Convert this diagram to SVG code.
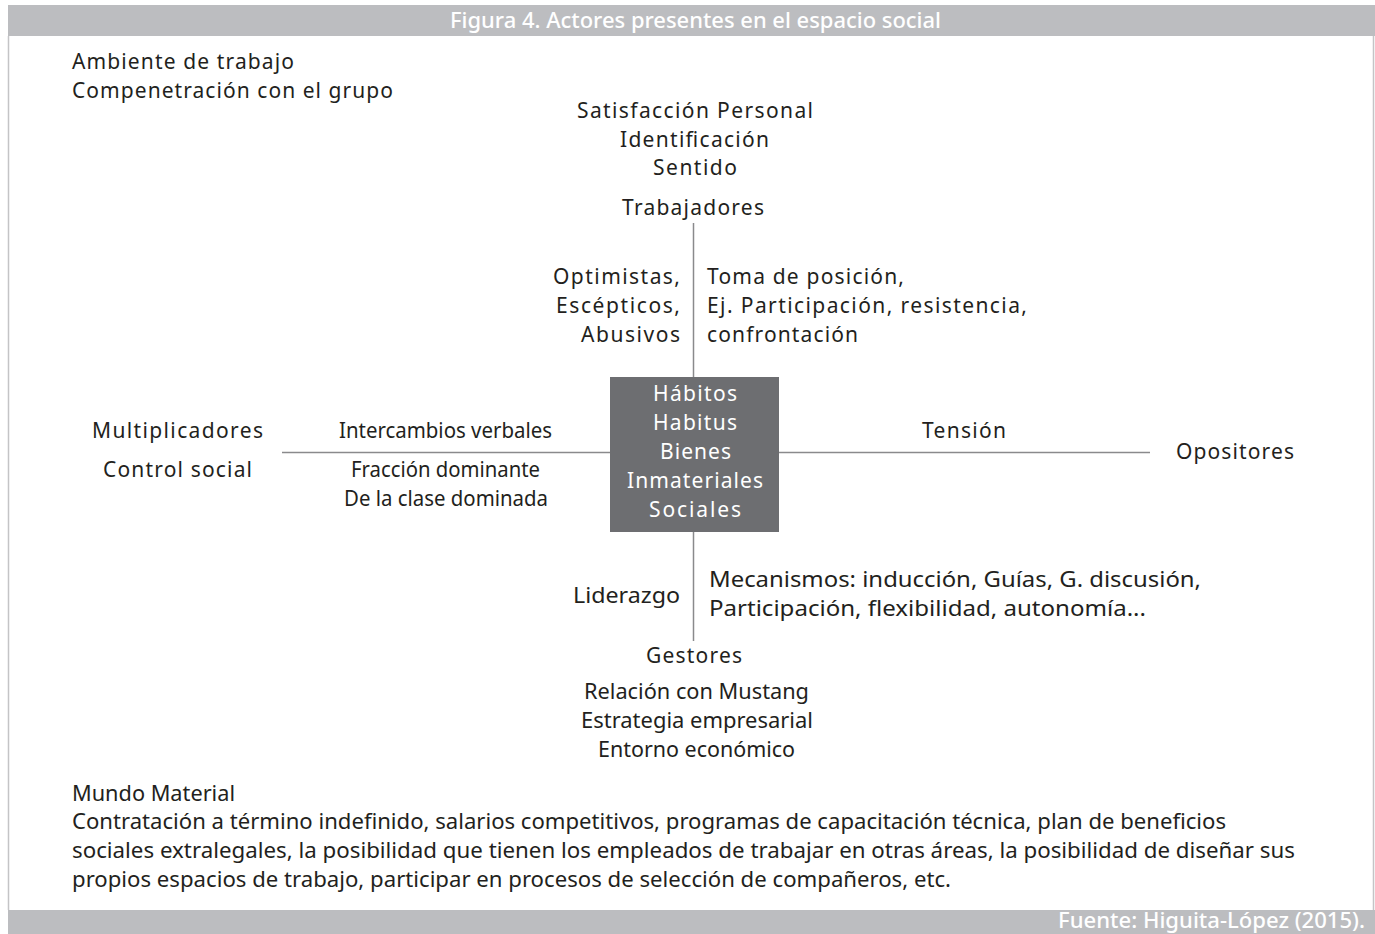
<svg xmlns="http://www.w3.org/2000/svg" width="1375" height="934" viewBox="0 0 1375 934">
<style>
.t{font-family:"Noto Sans","Liberation Sans",sans-serif;font-size:21px;fill:#231f20}
.c{text-anchor:middle}
.e{text-anchor:end}
.w{fill:#ffffff}
.h{font-weight:500}
.band{fill:#bcbdc0}
.ln{stroke:#8a8a8c;stroke-width:1.5;fill:none}
</style>
<rect x="0" y="0" width="1375" height="934" fill="#ffffff"/>
<line x1="8.5" y1="36" x2="8.5" y2="910" stroke="#c4c4c6" stroke-width="1.5"/>
<line x1="1373.5" y1="36" x2="1373.5" y2="910" stroke="#c4c4c6" stroke-width="1.5"/>
<g id="header">
<rect class="band" x="8" y="5" width="1367" height="31"/>
<text class="t w c h" x="695.5" y="28" font-size="20" textLength="491" lengthAdjust="spacingAndGlyphs">Figura 4. Actores presentes en el espacio social</text>
</g>
<g id="footer">
<rect class="band" x="8" y="910" width="1367" height="24"/>
<text class="t w e h" x="1365" y="928" font-size="18" textLength="307" lengthAdjust="spacingAndGlyphs">Fuente: Higuita-López (2015).</text>
</g>
<g id="connectors">
<line class="ln" x1="693.5" y1="223" x2="693.5" y2="377"/>
<line class="ln" x1="693.5" y1="532" x2="693.5" y2="641"/>
<line class="ln" x1="282" y1="452.5" x2="610" y2="452.5"/>
<line class="ln" x1="779" y1="452.5" x2="1150" y2="452.5"/>
</g>
<g id="ambiente">
<text class="t" x="72" y="69" textLength="222" lengthAdjust="spacing">Ambiente de trabajo</text>
<text class="t" x="72" y="98" textLength="321" lengthAdjust="spacing">Compenetración con el grupo</text>
</g>
<g id="satisfaccion">
<text class="t c" x="695" y="118" textLength="236" lengthAdjust="spacing">Satisfacción Personal</text>
<text class="t c" x="694.5" y="147" textLength="149" lengthAdjust="spacing">Identificación</text>
<text class="t c" x="695" y="175" textLength="84" lengthAdjust="spacing">Sentido</text>
</g>
<g id="trabajadores">
<text class="t c" x="693" y="215" textLength="142" lengthAdjust="spacing">Trabajadores</text>
</g>
<g id="optimistas">
<text class="t e" x="680" y="284" textLength="127" lengthAdjust="spacing">Optimistas,</text>
<text class="t e" x="680" y="313" textLength="124" lengthAdjust="spacing">Escépticos,</text>
<text class="t e" x="680" y="342" textLength="99" lengthAdjust="spacing">Abusivos</text>
</g>
<g id="toma">
<text class="t" x="707" y="284" textLength="197" lengthAdjust="spacing">Toma de posición,</text>
<text class="t" x="707" y="313" textLength="320" lengthAdjust="spacing">Ej. Participación, resistencia,</text>
<text class="t" x="707" y="342" textLength="151" lengthAdjust="spacing">confrontación</text>
</g>
<g id="centro">
<rect x="610" y="377" width="169" height="155" fill="#6d6e71"/>
<text class="t w c" x="695" y="401" textLength="84" lengthAdjust="spacing">Hábitos</text>
<text class="t w c" x="695" y="430" textLength="84" lengthAdjust="spacing">Habitus</text>
<text class="t w c" x="695.5" y="459" textLength="71" lengthAdjust="spacing">Bienes</text>
<text class="t w c" x="695" y="488" textLength="136" lengthAdjust="spacing">Inmateriales</text>
<text class="t w c" x="695" y="517" textLength="92" lengthAdjust="spacing">Sociales</text>
</g>
<g id="multiplicadores">
<text class="t" x="92" y="438" textLength="171" lengthAdjust="spacing">Multiplicadores</text>
<text class="t" x="103" y="477" textLength="149" lengthAdjust="spacing">Control social</text>
</g>
<g id="intercambios">
<text class="t c" x="445.5" y="438" textLength="213" lengthAdjust="spacingAndGlyphs">Intercambios verbales</text>
<text class="t c" x="445.5" y="477" textLength="189" lengthAdjust="spacingAndGlyphs">Fracción dominante</text>
<text class="t c" x="446" y="506" textLength="204" lengthAdjust="spacingAndGlyphs">De la clase dominada</text>
</g>
<g id="tension">
<text class="t c" x="964" y="438" textLength="84" lengthAdjust="spacing">Tensión</text>
</g>
<g id="opositores">
<text class="t" x="1176" y="459" textLength="118" lengthAdjust="spacing">Opositores</text>
</g>
<g id="liderazgo">
<text class="t e" x="680" y="603" textLength="107" lengthAdjust="spacingAndGlyphs">Liderazgo</text>
</g>
<g id="mecanismos">
<text class="t" x="709" y="587" textLength="492" lengthAdjust="spacingAndGlyphs">Mecanismos: inducción, Guías, G. discusión,</text>
<text class="t" x="709" y="616" textLength="437" lengthAdjust="spacingAndGlyphs">Participación, flexibilidad, autonomía...</text>
</g>
<g id="gestores">
<text class="t c" x="694" y="663" textLength="96" lengthAdjust="spacing">Gestores</text>
</g>
<g id="relacion">
<text class="t c" x="696.5" y="699" textLength="225" lengthAdjust="spacingAndGlyphs">Relación con Mustang</text>
<text class="t c" x="697" y="728" textLength="232" lengthAdjust="spacingAndGlyphs">Estrategia empresarial</text>
<text class="t c" x="696.5" y="757" textLength="197" lengthAdjust="spacingAndGlyphs">Entorno económico</text>
</g>
<g id="mundo">
<text class="t" x="72" y="801" textLength="163" lengthAdjust="spacingAndGlyphs">Mundo Material</text>
<text class="t" x="72" y="829" textLength="1154" lengthAdjust="spacingAndGlyphs">Contratación a término indefinido, salarios competitivos, programas de capacitación técnica, plan de beneficios</text>
<text class="t" x="72" y="858" textLength="1223" lengthAdjust="spacingAndGlyphs">sociales extralegales, la posibilidad que tienen los empleados de trabajar en otras áreas, la posibilidad de diseñar sus</text>
<text class="t" x="72" y="887" textLength="879" lengthAdjust="spacingAndGlyphs">propios espacios de trabajo, participar en procesos de selección de compañeros, etc.</text>
</g>
</svg>
